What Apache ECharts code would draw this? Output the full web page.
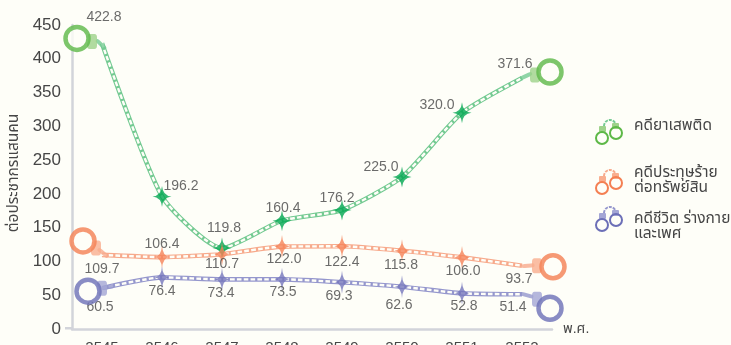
<!DOCTYPE html>
<html><head><meta charset="utf-8">
<style>html,body{margin:0;padding:0;background:#fefef8;overflow:hidden}#c{width:731px;height:345px}</style>
<script src="https://cdn.jsdelivr.net/npm/echarts@6/dist/echarts.min.js"></script></head>
<body><div id="c"></div>
<script>
const years = ['2545','2546','2547','2548','2549','2550','2551','2552'];
const yTicks = [0,50,100,150,200,250,300,350,400,450];
const drugs = [422.8,196.2,119.8,160.4,176.2,225.0,320.0,371.6];
const property = [109.7,106.4,110.7,122.0,122.4,115.8,106.0,93.7];
const life = [60.5,76.4,73.4,73.5,69.3,62.6,52.8,51.4];
const legendNames = ['คดียาเสพติด','คดีประทุษร้าย\nต่อทรัพย์สิน','คดีชีวิต ร่างกาย\nและเพศ'];
const yTitle = 'ต่อประชากรแสนคน';
const xTitle = 'พ.ศ.';

const FONT = '"Liberation Sans","Noto Sans Thai","Noto Sans",sans-serif';
const BG = '#fefef8';
const TXT = '#464646';
const star = 'path://M0,-10 Q0.8,-0.8 10,0 Q0.8,0.8 0,10 Q-0.8,0.8 -10,0 Q-0.8,-0.8 0,-10Z';

const styles = [
 {name:legendNames[0],data:drugs,ring:'#5db847',lock:'#9ed28a',chain:'#74ca92',star:'#00a650',size:[19,21],
  off:[[2,-26],[19,-10],[2,-20],[1,-13],[-5,-12],[-21,-10],[-25,-8],[-7,-14]],
  first:{ring:[-25,-5],lock:[-10,-2],link:[-1,1,-45]},last:{ring:[28,-6],lock:[13,-3],link:[4,-2,25]},leg:{y:135,text:126}},
 {name:legendNames[1],data:property,ring:'#f47f52',lock:'#f9ae8f',chain:'#f7aa8c',star:'#f58257',size:[15,23],
  off:[[0,14],[0,-13],[0,10],[2,13],[0,16],[-1,14],[1,14],[-3,13]],
  first:{ring:[-19,-14],lock:[-6,-7],link:[1,-2,-40]},last:{ring:[31,1],lock:[15,0],link:[6,0,5]},leg:{y:185,text:173}},
 {name:legendNames[2],data:life,ring:'#6c6fb7',lock:'#a3a5d5',chain:'#9597cd',star:'#7476bc',size:[14,23],
  off:[[-2,19],[0,13.5],[-1,13.5],[1,13],[-3,14],[-3,18],[2,13],[-9,13]],
  first:{ring:[-14,3],lock:[0,0],link:[6,-1,10]},last:{ring:[28,14],lock:[15,5],link:[5,1,-15]},leg:{y:222,text:219}}
];

const series = [];
styles.forEach(s=>{
  series.push({type:'line',name:s.name,smooth:0.2,z:3,symbol:'none',silent:true,
    lineStyle:{color:s.chain,width:4.6},data:s.data});
  series.push({type:'line',smooth:0.2,z:4,symbol:'none',silent:true,
    lineStyle:{color:BG,width:2.4,type:[4.6,2.2],cap:'butt'},data:s.data});
  series.push({type:'scatter',z:6,silent:true,symbol:star,
    itemStyle:{color:s.star},
    data:s.data.map((v,i)=>({value:[i,v],symbolSize:(i===0||i===s.data.length-1)?0:s.size,
      label:{show:true,position:'inside',offset:s.off[i],
      formatter:v.toFixed(1),fontFamily:FONT,fontSize:14,color:TXT,letterSpacing:-0.5}}))});
  const parts=[];
  [[0,s.first],[7,s.last]].forEach(([i,c])=>{
    const v=[i,s.data[i]];
    parts.push({value:v,symbol:'roundRect',symbolSize:[13,4],symbolOffset:[c.link[0],c.link[1]],symbolRotate:c.link[2],
      itemStyle:{color:s.chain}});
    parts.push({value:v,symbol:'roundRect',symbolSize:[10,15],symbolOffset:c.lock,itemStyle:{color:s.lock}});
    parts.push({value:v,symbol:'circle',symbolSize:23,symbolOffset:c.ring,
      itemStyle:{color:BG,borderColor:s.ring,borderWidth:4.5}});
  });
  series.push({type:'scatter',z:7,silent:true,data:parts});
});

const graphic=[{type:'rect',shape:{x:65,y:327,width:8,height:2.5},style:{fill:'#d2d4da'}}];
styles.forEach((s,k)=>{
  const y=s.leg.y, st=()=>({fill:'none',stroke:s.ring,lineWidth:2});
  graphic.push({type:'arc',shape:{cx:610,cy:y-9,r:6,startAngle:Math.PI,endAngle:0},style:{fill:'none',stroke:s.chain,lineWidth:2,lineDash:[3,1]}});
  graphic.push({type:'rect',shape:{x:599,y:y-9,width:7,height:6,r:1},style:{fill:s.lock}});
  graphic.push({type:'rect',shape:{x:612,y:y-12,width:7,height:6,r:1},style:{fill:s.lock}});
  graphic.push({type:'circle',shape:{cx:602,cy:y+3,r:6},style:st()});
  graphic.push({type:'circle',shape:{cx:616,cy:y-2,r:6},style:st()});
  graphic.push({type:'text',x:634,y:s.leg.text-8,style:{text:legendNames[k],fill:TXT,font:'15.5px '+FONT,lineHeight:15}});
});

const chart=echarts.init(document.getElementById('c'),null,{renderer:'canvas'});
chart.setOption({
  animation:false,backgroundColor:BG,
  grid:{left:72,top:25,width:480,height:304,outerBoundsMode:'none',containLabel:false},
  xAxis:{type:'category',data:years,boundaryGap:true,name:xTitle,nameLocation:'end',nameGap:11,
    nameTextStyle:{fontFamily:FONT,fontSize:14,color:TXT},
    axisLine:{lineStyle:{color:'#d2d4da',width:2.5}},axisTick:{show:false},
    axisLabel:{margin:11,interval:0,fontFamily:FONT,fontSize:15,color:TXT}},
  yAxis:{type:'value',min:0,max:450,interval:50,name:yTitle,nameLocation:'middle',nameGap:50,nameRotate:90,
    nameTextStyle:{fontFamily:FONT,fontSize:15.5,color:TXT,padding:[0,0,0,8]},
    axisLine:{show:true,lineStyle:{color:'#d2d4da',width:2.5}},axisTick:{show:false},splitLine:{show:false},
    axisLabel:{margin:11,fontFamily:FONT,fontSize:17,color:TXT,
      formatter:v=>yTicks.includes(v)?String(v):''}},
  series,graphic
});
</script></body></html>
